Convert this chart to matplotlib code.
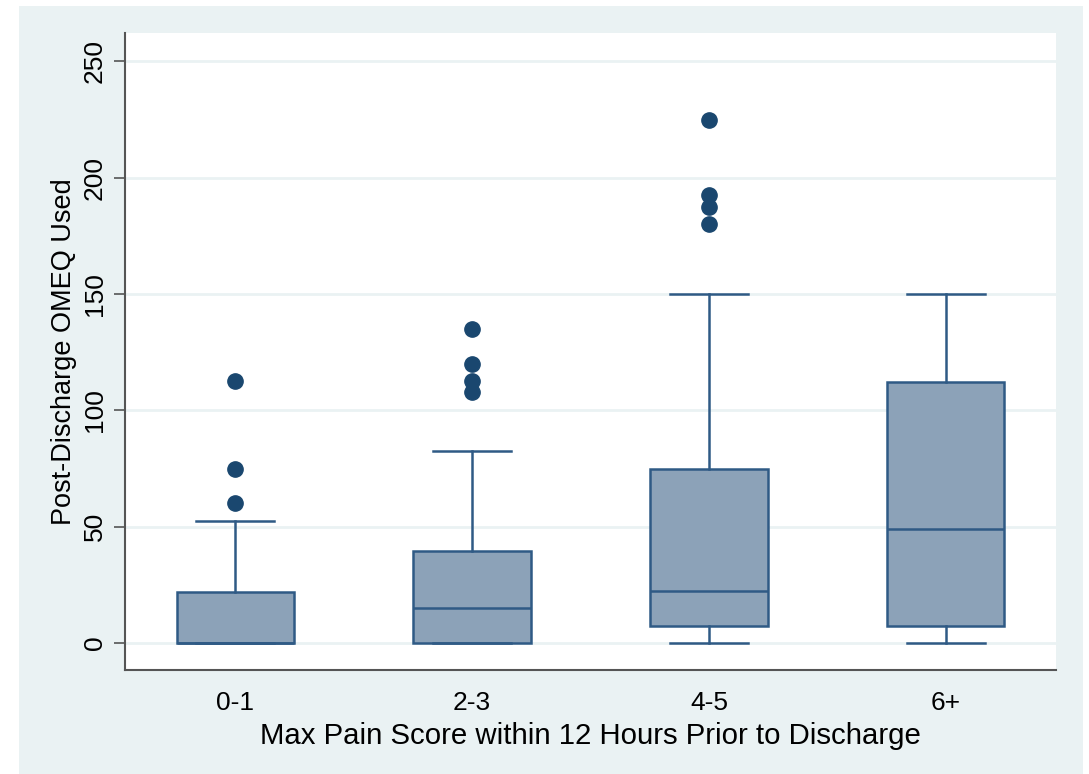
import matplotlib
matplotlib.use('Agg')
import matplotlib.pyplot as plt
from matplotlib.patches import Rectangle

plt.rcParams['font.family'] = ['Liberation Sans', 'DejaVu Sans']

# ------------------------------------------------------------
# Box summary per pain-score group (OMEQ)
# ------------------------------------------------------------
groups      = ['0-1', '2-3', '4-5', '6+']
whisker_lo  = [0, 0, 0, 0]
q1          = [0, 0, 7.5, 7.5]
median      = [0, 15, 22.5, 49]
q3          = [22, 39.5, 75, 112]
whisker_hi  = [52.5, 82.5, 150, 150]
outliers    = [
    [60, 75, 112.5],
    [108, 112.5, 120, 135],
    [180, 187.5, 192.5, 225],
    [],
]

BG     = '#eaf2f3'
FILL   = '#8ca2b8'
EDGE   = '#2f5a85'
NAVY   = '#1a476f'

stats = []
for i, g in enumerate(groups):
    stats.append({
        'label': g,
        'whislo': whisker_lo[i], 'q1': q1[i], 'med': median[i],
        'q3': q3[i], 'whishi': whisker_hi[i], 'fliers': outliers[i],
    })

fig = plt.figure(figsize=(10.89, 7.74), dpi=100)
fig.patch.set_facecolor('white')
fig.add_artist(Rectangle((19/1089, 0), (1083-19)/1089, (774-6)/774,
                         transform=fig.transFigure, facecolor=BG,
                         edgecolor='none', zorder=-10))

ax = fig.add_axes([125/1089, 1 - 670/774, (1056-125)/1089, (670-33)/774])
ax.set_facecolor('white')

ax.bxp(stats, positions=[1, 2, 3, 4], widths=0.495, patch_artist=True,
       boxprops=dict(facecolor=FILL, edgecolor=EDGE, linewidth=1.8),
       medianprops=dict(color=EDGE, linewidth=1.8),
       whiskerprops=dict(color=EDGE, linewidth=1.8),
       capprops=dict(color=EDGE, linewidth=1.8),
       capwidths=0.33,
       flierprops=dict(marker='o', markerfacecolor=NAVY, markeredgecolor=NAVY,
                       markersize=11, linestyle='none'),
       zorder=3)

ax.set_xlim(0.535, 4.465)
ax.set_ylim(-11.6, 262.2)
ax.set_yticks([0, 50, 100, 150, 200, 250])
ax.yaxis.grid(True, color=BG, linewidth=2, zorder=0)
ax.set_axisbelow(True)

for side in ['top', 'right']:
    ax.spines[side].set_visible(False)
for side in ['left', 'bottom']:
    ax.spines[side].set_color('#555555')
    ax.spines[side].set_linewidth(1.5)

ax.tick_params(axis='y', direction='out', length=8, width=1.2, color='#555555',
               labelsize=19, pad=5)
ax.tick_params(axis='x', length=0, labelsize=19, pad=15)
for lbl in ax.get_yticklabels():
    lbl.set_rotation(90)
    lbl.set_va('center')

ax.set_xticks([1, 2, 3, 4])
ax.set_xticklabels(groups)
ax.set_xlabel('Max Pain Score within 12 Hours Prior to Discharge', fontsize=21.2, labelpad=5)
ax.set_ylabel('Post-Discharge OMEQ Used', fontsize=19.5, labelpad=4)

plt.savefig('out.png', dpi=100, facecolor='white')
